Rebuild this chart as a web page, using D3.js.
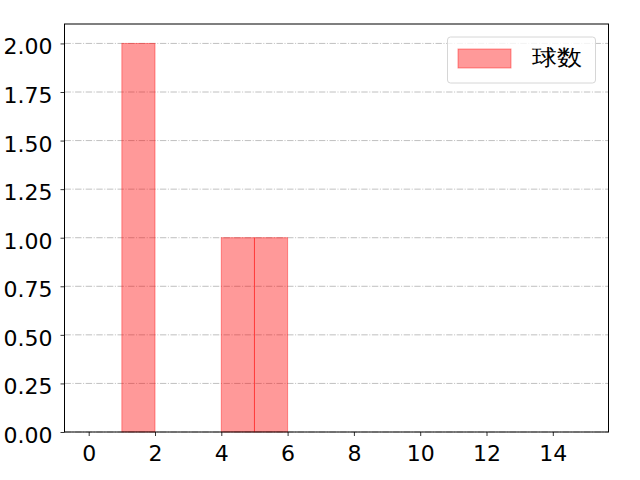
<!DOCTYPE html>
<html><head><meta charset="utf-8">
<script src="https://cdn.jsdelivr.net/npm/d3@7"></script>
<style>body{margin:0;background:#fff}svg{display:block}text{font-family:"DejaVu Sans",sans-serif}</style>
</head><body>
<script>
const binStarts = [1, 4, 5];
const binEnds = [2, 5, 6];
const counts = [2, 1, 1];
const xTicks = [0, 2, 4, 6, 8, 10, 12, 14];
const yTicks = [0, 0.25, 0.5, 0.75, 1.0, 1.25, 1.5, 1.75, 2.0];
const legendLabel = "球数";

const W = 640, H = 480;
const L = 64.5, R = 608.5, T = 24, B = 432;
const svg = d3.select("body").append("svg").attr("width", W).attr("height", H);
const x = d3.scaleLinear().domain([-0.73, 15.68]).range([L, R]);
const y = d3.scaleLinear().domain([0, 2.1]).range([B, T]);

// grid
svg.append("g").selectAll("line").data(yTicks).join("line")
  .attr("x1", L).attr("x2", R).attr("y1", d => y(d)).attr("y2", d => y(d))
  .attr("stroke", "#b0b0b0").attr("stroke-width", 0.8).attr("stroke-dasharray", "6.4,1.6,1,1.6");

// bars
svg.append("g").selectAll("rect").data(counts).join("rect")
  .attr("x", (d, i) => x(binStarts[i])).attr("width", (d, i) => x(binEnds[i]) - x(binStarts[i]))
  .attr("y", d => y(d)).attr("height", d => y(0) - y(d))
  .attr("fill", "rgba(255,0,0,0.4)").attr("stroke", "rgba(255,0,0,0.4)").attr("stroke-width", 1);

// axes
const xAxis = d3.axisBottom(x).tickValues(xTicks).tickFormat(d3.format("d")).tickSize(4).tickPadding(9);
const yAxis = d3.axisLeft(y).tickValues(yTicks).tickFormat(d3.format(".2f")).tickSize(4).tickPadding(8);
const gx = svg.append("g").attr("transform", `translate(0,${B})`).call(xAxis);
const gy = svg.append("g").attr("transform", `translate(${L},0)`).call(yAxis);
[gx, gy].forEach(g => {
  g.select(".domain").remove();
  g.selectAll(".tick line").attr("stroke", "#000").attr("stroke-width", 0.8);
  g.selectAll(".tick text").attr("font-size", 22).attr("fill", "#000")
   .attr("font-family", '"DejaVu Sans",sans-serif');
});
gy.selectAll(".tick text").attr("dy", null).attr("y", 10.5);
svg.append("rect").attr("x", L).attr("y", T).attr("width", R - L).attr("height", B - T)
  .attr("fill", "none").attr("stroke", "#000").attr("stroke-width", 1);

// legend
const lg = svg.append("g");
lg.append("rect").attr("x", 447.5).attr("y", 37).attr("width", 148).attr("height", 46).attr("rx", 3)
  .attr("fill", "rgba(255,255,255,0.8)").attr("stroke", "#d6d6d6").attr("stroke-width", 1);
lg.append("rect").attr("x", 458).attr("y", 49).attr("width", 53).attr("height", 19)
  .attr("fill", "rgba(255,0,0,0.4)").attr("stroke", "rgba(255,0,0,0.4)").attr("stroke-width", 1);
lg.append("text").attr("x", 532).attr("y", 65).attr("font-size", 22).attr("fill", "#000")
  .attr("font-family", '"Noto Sans CJK JP",sans-serif')
  .attr("textLength", 50).attr("lengthAdjust", "spacingAndGlyphs").text(legendLabel);
</script>
</body></html>
